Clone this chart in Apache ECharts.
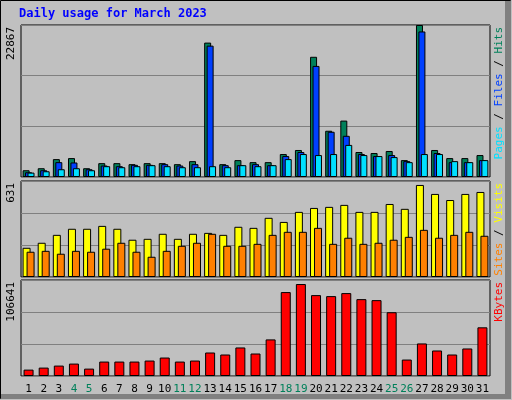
<!DOCTYPE html>
<html><head><meta charset="utf-8">
<script src="https://cdn.jsdelivr.net/npm/echarts@6/dist/echarts.min.js"></script>
<style>html,body{margin:0;padding:0;background:#c0c0c0}#c{width:512px;height:400px}</style>
</head><body><div id="c"></div>
<script>
const days = ['1','2','3','4','5','6','7','8','9','10','11','12','13','14','15','16','17','18','19','20','21','22','23','24','25','26','27','28','29','30','31'];
const weekend = ['4','5','11','12','18','19','25','26'];
const hits  = [1016,1321,2692,2845,1321,2083,2083,1930,2083,2083,1930,2388,20218,1930,2540,2235,2235,3454,4064,18084,6960,8484,3759,3607,3912,2540,22867,4064,2845,2845,3302];
const files = [711,1016,2235,2184,1168,1727,1626,1829,1829,1930,1727,1930,19761,1778,1778,1930,1778,3150,3759,16713,6807,6198,3454,3150,3302,2388,21895,3607,2235,2235,2540];
const pages = [660,864,1168,1321,1016,1626,1473,1626,1778,1626,1473,1473,1626,1473,1778,1626,1778,2692,3454,3302,3454,4826,3302,3150,2997,2235,3454,3454,2388,2235,2540];
const visits = [192,225,277,317,317,336,317,245,251,284,251,284,290,277,330,323,389,362,428,454,461,474,428,428,480,448,605,546,506,546,559];
const sites  = [166,172,153,172,166,186,225,166,133,172,205,225,284,205,205,218,277,297,297,323,218,258,218,225,245,264,310,258,277,297,271];
const kbytes = [7085,9322,11560,13797,8204,16035,16035,16035,17153,20510,16035,17153,26103,23866,31697,24984,40646,93225,102175,89869,88750,92106,85394,84275,70851,18272,36171,28340,23866,30578,54071];
const maxTop = 22867, maxMid = 631, maxBot = 106641;

const chart = echarts.init(document.getElementById('c'));
const mono = 'DejaVu Sans Mono';
const grids = [
  {left:21, right:22, top:25, height:152},
  {left:21, right:22, top:181, height:96},
  {left:21, right:22, top:280, height:96}
].map(g => Object.assign(g, {show:true, backgroundColor:'#c0c0c0', borderColor:'#000', borderWidth:1}));
function xa(i, show){
  return {type:'category', gridIndex:i, data:days, axisLine:{show:false}, axisTick:{show:false},
    axisLabel:{show:show, fontFamily:mono, fontSize:11, margin:8, interval:0,
      color: function(v){return weekend.includes(v)?'#00805a':'#000';}}};
}
function ya(i, max){
  return {type:'value', gridIndex:i, min:0, max:max, interval:max/3, axisLine:{show:false}, axisTick:{show:false},
    axisLabel:{show:false}, splitLine:{show:true, lineStyle:{color:'#808080', width:1}}};
}
const bs = c => ({color:c, borderColor:'#000', borderWidth:1});
chart.setOption({
  animation:false,
  backgroundColor:'#c0c0c0',
  grid:grids,
  xAxis:[xa(0,false), xa(1,false), xa(2,true)],
  yAxis:[ya(0,maxTop), ya(1,maxMid), ya(2,maxBot)],
  series:[
    {type:'bar', xAxisIndex:0, yAxisIndex:0, data:hits, barWidth:7, barGap:'-65%', itemStyle:bs('#00805a')},
    {type:'bar', xAxisIndex:0, yAxisIndex:0, data:files, barWidth:7, barGap:'-65%', itemStyle:bs('#0040ff')},
    {type:'bar', xAxisIndex:0, yAxisIndex:0, data:pages, barWidth:7, barGap:'-65%', itemStyle:bs('#00e0ff')},
    {type:'bar', xAxisIndex:1, yAxisIndex:1, data:visits, barWidth:8, barGap:'-50%', itemStyle:bs('#ffff00')},
    {type:'bar', xAxisIndex:1, yAxisIndex:1, data:sites, barWidth:8, barGap:'-50%', itemStyle:bs('#ff8000')},
    {type:'bar', xAxisIndex:2, yAxisIndex:2, data:kbytes, barWidth:10, itemStyle:bs('#ff0000')}
  ],
  graphic:[
    {type:'rect', shape:{x:0.5,y:0.5,width:510,height:398}, style:{fill:'none', stroke:'#000', lineWidth:1}, z:-1},
    {type:'rect', shape:{x:505,y:1,width:6,height:398}, style:{fill:'#808080'}, z:-1},
    {type:'rect', shape:{x:1,y:394,width:510,height:5}, style:{fill:'#808080'}, z:-1},
    {type:'text', left:19, top:8, style:{text:'Daily usage for March 2023', fill:'#0000ff', font:'bold 12px '+mono}},
    {type:'text', x:11, y:27, rotation:Math.PI/2, style:{text:String(maxTop), fill:'#000', font:'11px '+mono, align:'right', verticalAlign:'middle'}},
    {type:'text', x:11, y:183, rotation:Math.PI/2, style:{text:String(maxMid), fill:'#000', font:'11px '+mono, align:'right', verticalAlign:'middle'}},
    {type:'text', x:11, y:282, rotation:Math.PI/2, style:{text:String(maxBot), fill:'#000', font:'11px '+mono, align:'right', verticalAlign:'middle'}},
    {type:'text', x:499, y:27, rotation:Math.PI/2, style:{rich:{a:{fill:'#00e0ff'},b:{fill:'#000'},c:{fill:'#0040ff'},d:{fill:'#00805a'}}, text:'{a|Pages}{b| / }{c|Files}{b| / }{d|Hits}', font:'11px '+mono, align:'right', verticalAlign:'middle'}},
    {type:'text', x:499, y:183, rotation:Math.PI/2, style:{rich:{a:{fill:'#ff8000'},b:{fill:'#000'},c:{fill:'#ffff00'}}, text:'{a|Sites}{b| / }{c|Visits}', font:'11px '+mono, align:'right', verticalAlign:'middle'}},
    {type:'text', x:499, y:282, rotation:Math.PI/2, style:{text:'KBytes', fill:'#ff0000', font:'11px '+mono, align:'right', verticalAlign:'middle'}}
  ]
});
</script></body></html>
